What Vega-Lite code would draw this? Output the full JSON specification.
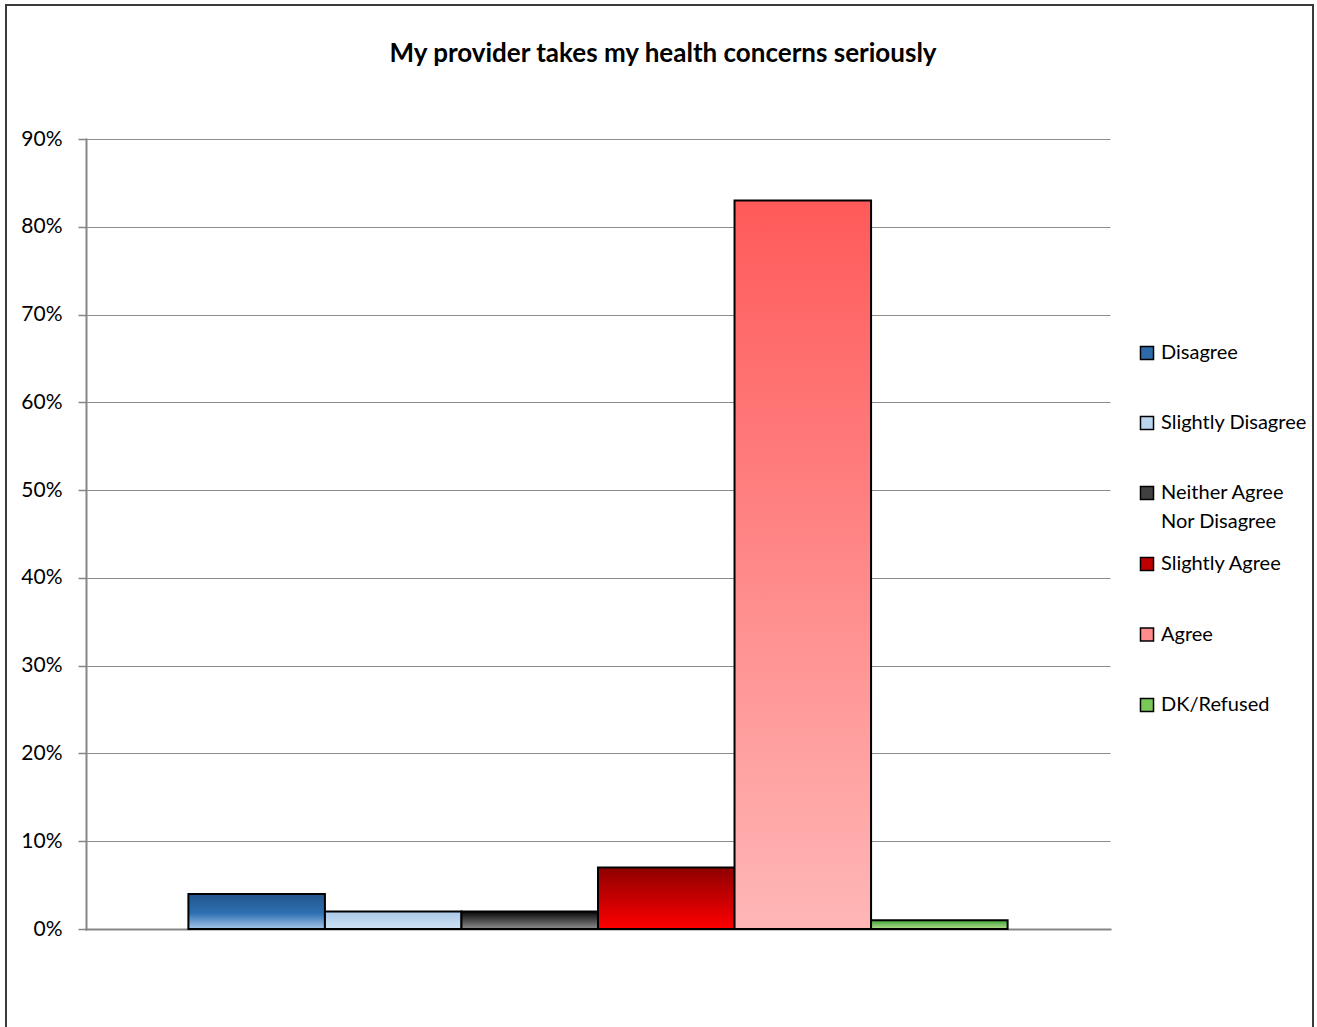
{
  "$schema": "https://vega.github.io/schema/vega-lite/v6.json",
  "width": 1024,
  "height": 790,
  "autosize": "none",
  "padding": {"left": 86, "top": 139, "right": 207, "bottom": 98},
  "background": "white",
  "title": {
    "text": "My provider takes my health concerns seriously",
    "font": "Lato",
    "fontSize": 26,
    "fontWeight": "bold",
    "color": "black",
    "anchor": "middle",
    "frame": "group",
    "dx": 65,
    "baseline": "alphabetic",
    "offset": -84
  },
  "data": {
    "values": [
      {"response": "Disagree", "pct": 0.04},
      {"response": "Slightly Disagree", "pct": 0.02},
      {"response": "Neither Agree Nor Disagree", "pct": 0.02},
      {"response": "Slightly Agree", "pct": 0.07},
      {"response": "Agree", "pct": 0.83},
      {"response": "DK/Refused", "pct": 0.01}
    ]
  },
  "encoding": {
    "x": {
      "field": "response",
      "type": "nominal",
      "sort": null,
      "scale": {
        "domain": ["Disagree", "Slightly Disagree", "Neither Agree Nor Disagree", "Slightly Agree", "Agree", "DK/Refused"],
        "paddingInner": 0,
        "paddingOuter": 0.75
      },
      "axis": {"labels": false, "ticks": false, "title": null, "domainColor": "#868686", "domainWidth": 2}
    },
    "y": {
      "field": "pct",
      "type": "quantitative",
      "scale": {"domain": [0, 0.9], "nice": false},
      "axis": {
        "values": [0, 0.1, 0.2, 0.3, 0.4, 0.5, 0.6, 0.7, 0.8, 0.9],
        "format": ".0%",
        "title": null,
        "grid": true,
        "gridColor": "#8c8c8c",
        "gridWidth": 1,
        "domainColor": "#868686",
        "domainWidth": 2,
        "tickColor": "#868686",
        "tickSize": 8,
        "tickWidth": 1.5,
        "labelPadding": 16,
        "labelFont": "Lato",
        "labelFontSize": 21,
        "labelColor": "black"
      }
    }
  },
  "layer": [
    {
      "mark": {"type": "rect", "fill": null, "stroke": "#3a3a3a", "strokeWidth": 2, "clip": false},
      "data": {"values": [{"frame": 1}]},
      "encoding": {
        "x": {"value": -80},
        "x2": {"value": 1227},
        "y": {"value": -134},
        "y2": {"value": 950}
      }
    },
    {
      "transform": [{"filter": "indexof(['Disagree', 'Slightly Disagree', 'Neither Agree Nor Disagree'], datum.response) >= 0"}],
      "mark": {"type": "bar"},
      "encoding": {
        "color": {
          "field": "response",
          "type": "nominal",
          "sort": null,
          "scale": {
            "domain": ["Disagree", "Slightly Disagree", "Neither Agree Nor Disagree"],
            "range": ["#2e6aa8", "#bcd5ee", "#404040"]
          },
          "legend": {
            "title": null,
            "orient": "none",
            "legendX": 1051,
            "legendY": 204,
            "symbolType": "square",
            "symbolSize": 170,
            "symbolStrokeColor": "black",
            "symbolStrokeWidth": 1.5,
            "symbolOpacity": 1,
            "labelFont": "Lato",
            "labelFontSize": 20,
            "labelColor": "black",
            "labelLimit": 300,
            "labelOffset": 4,
            "rowPadding": 50,
            "labelBaseline": "middle",
            "labelExpr": "datum.label == 'Neither Agree Nor Disagree' ? ['Neither Agree', 'Nor Disagree'] : datum.label",
            "encode": {"labels": {"update": {"lineHeight": {"value": 29}}}}
          }
        }
      }
    },
    {
      "transform": [{"filter": "indexof(['Slightly Agree', 'Agree', 'DK/Refused'], datum.response) >= 0"}],
      "mark": {"type": "bar"},
      "encoding": {
        "fill": {
          "field": "response",
          "type": "nominal",
          "sort": null,
          "scale": {
            "domain": ["Slightly Agree", "Agree", "DK/Refused"],
            "range": ["#c00000", "#ff8c8c", "#79c857"]
          },
          "legend": {
            "title": null,
            "orient": "none",
            "legendX": 1051,
            "legendY": 415,
            "symbolType": "square",
            "symbolSize": 170,
            "symbolStrokeColor": "black",
            "symbolStrokeWidth": 1.5,
            "symbolOpacity": 1,
            "labelFont": "Lato",
            "labelFontSize": 20,
            "labelColor": "black",
            "labelLimit": 300,
            "labelOffset": 4,
            "rowPadding": 50.5,
            "labelBaseline": "middle"
          }
        }
      }
    },
    {
      "mark": {"type": "bar", "stroke": "black", "strokeWidth": 2},
      "encoding": {
        "fill": {
          "condition": [
            {"test": "datum.response == 'Disagree'", "value": {"gradient": "linear", "x1": 0, "y1": 0, "x2": 0, "y2": 1, "stops": [{"offset": 0, "color": "#22558a"}, {"offset": 0.55, "color": "#2e6fb2"}, {"offset": 1, "color": "#a6c6ea"}]}},
            {"test": "datum.response == 'Slightly Disagree'", "value": {"gradient": "linear", "x1": 0, "y1": 0, "x2": 0, "y2": 1, "stops": [{"offset": 0, "color": "#a8c7e6"}, {"offset": 1, "color": "#d0e2f4"}]}},
            {"test": "datum.response == 'Neither Agree Nor Disagree'", "value": {"gradient": "linear", "x1": 0, "y1": 0, "x2": 0, "y2": 1, "stops": [{"offset": 0, "color": "#050505"}, {"offset": 1, "color": "#8e8e8e"}]}},
            {"test": "datum.response == 'Slightly Agree'", "value": {"gradient": "linear", "x1": 0, "y1": 0, "x2": 0, "y2": 1, "stops": [{"offset": 0, "color": "#8e0000"}, {"offset": 1, "color": "#ff0000"}]}},
            {"test": "datum.response == 'Agree'", "value": {"gradient": "linear", "x1": 0, "y1": 0, "x2": 0, "y2": 1, "stops": [{"offset": 0, "color": "#ff5a5a"}, {"offset": 1, "color": "#ffb7b7"}]}}
          ],
          "value": {"gradient": "linear", "x1": 0, "y1": 0, "x2": 0, "y2": 1, "stops": [{"offset": 0, "color": "#3ea23a"}, {"offset": 1, "color": "#b6e08c"}]}
        }
      }
    }
  ],
  "config": {
    "view": {"stroke": null},
    "axis": {"domainCap": "square"}
  }
}
